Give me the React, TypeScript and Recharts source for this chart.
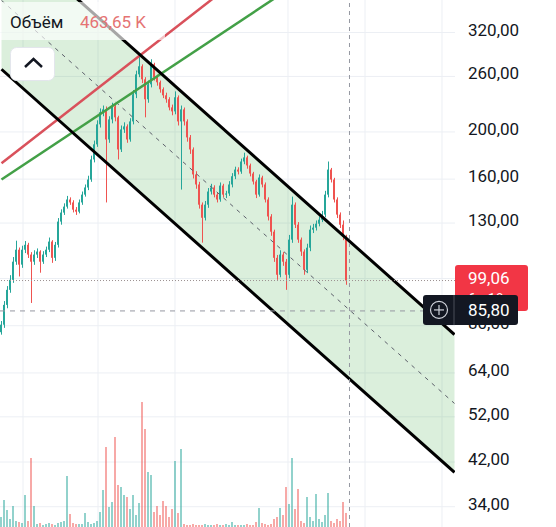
import React from 'react';
import { ComposedChart, Bar, Line, Area, XAxis, YAxis, CartesianGrid, ReferenceLine } from 'recharts';

const openPrices = [
  77.6, 80.4, 88.3, 94.8, 99.4, 108.3, 114.6, 106.8, 114.6, 117.3,
  112.0, 108.3, 112.0, 113.6, 108.3, 112.0, 114.6, 119.1, 110.3, 117.3,
  130.9, 136.6, 140.5, 145.3, 143.3, 138.5, 137.2, 143.3, 148.7, 153.8,
  159.7, 175.6, 188.6, 207.3, 219.5, 222.5, 193.0, 212.2, 225.7, 214.3,
  184.1, 202.4, 205.3, 193.0, 210.2, 239.0, 262.6, 272.8, 256.5, 233.4,
  250.5, 275.4, 259.0, 252.9, 244.7, 237.8, 233.4, 224.6, 220.4, 235.6,
  210.2, 222.5, 210.2, 194.9, 184.1, 163.6, 156.0, 141.8, 133.3, 141.8,
  150.9, 153.8, 148.7, 145.3, 155.2, 148.7, 149.5, 156.0, 162.2, 167.4,
  165.8, 173.9, 177.3, 170.7, 164.3, 158.2, 148.7, 161.2, 156.0, 145.3,
  134.1, 124.8, 110.3, 101.8, 112.0, 108.3, 101.8, 120.2, 141.8, 129.0,
  120.2, 113.6, 104.2, 115.7, 126.0, 127.2, 129.6, 132.1, 135.3, 148.7,
  167.4, 159.7, 145.3, 135.3, 129.0, 121.8,
];
const highPrices = [
  81.8, 89.9, 96.5, 101.6, 110.7, 119.6, 115.8, 116.8, 119.4, 118.4,
  113.3, 114.3, 115.3, 114.3, 113.8, 116.3, 121.4, 119.9, 118.9, 133.1,
  138.7, 142.7, 147.8, 146.8, 144.8, 140.2, 145.3, 150.9, 156.0, 162.6,
  178.8, 192.0, 211.3, 223.5, 226.6, 225.6, 215.4, 229.6, 227.6, 215.9,
  206.2, 209.3, 207.3, 213.4, 243.8, 267.2, 284.9, 275.3, 259.1, 255.0,
  282.0, 277.4, 262.1, 255.0, 246.9, 240.8, 235.7, 227.6, 242.3, 237.7,
  226.6, 224.5, 212.3, 197.1, 185.9, 166.1, 158.0, 143.3, 144.3, 153.4,
  156.5, 155.4, 150.4, 157.5, 156.5, 151.4, 158.5, 164.6, 169.7, 169.2,
  176.3, 181.3, 178.8, 172.2, 165.6, 159.5, 163.6, 162.6, 157.5, 146.8,
  135.6, 126.0, 111.8, 114.3, 113.3, 109.7, 122.9, 147.3, 143.3, 130.6,
  121.4, 114.8, 117.9, 128.5, 129.5, 131.6, 134.1, 137.7, 151.4, 173.9,
  168.7, 161.0, 146.8, 136.7, 131.6, 123.0,
];
const lowPrices = [
  76.7, 79.2, 86.9, 93.5, 98.0, 106.7, 101.0, 105.2, 112.8, 110.2,
  89.1, 106.7, 110.2, 102.8, 107.2, 110.7, 113.3, 107.7, 108.7, 115.8,
  129.0, 135.1, 139.2, 141.7, 136.7, 135.1, 136.1, 141.7, 147.3, 151.9,
  158.0, 173.2, 186.4, 204.2, 215.4, 143.3, 190.0, 208.3, 210.3, 175.6,
  181.9, 199.1, 190.0, 191.0, 207.3, 234.7, 259.1, 252.0, 214.3, 229.6,
  246.9, 255.0, 248.9, 240.8, 234.7, 229.6, 221.5, 216.4, 217.4, 206.2,
  152.3, 206.2, 191.0, 180.3, 160.5, 152.9, 139.2, 118.5, 131.6, 139.7,
  148.8, 146.8, 143.3, 143.8, 146.8, 146.3, 147.8, 153.9, 160.0, 163.6,
  164.1, 171.7, 168.1, 162.1, 156.0, 146.3, 147.3, 153.9, 143.3, 131.6,
  122.4, 108.2, 99.4, 100.6, 106.2, 94.8, 100.1, 118.4, 127.0, 118.4,
  111.3, 101.8, 102.6, 113.8, 124.0, 125.5, 128.0, 130.6, 133.6, 146.8,
  157.5, 143.3, 133.1, 127.0, 119.9, 97.1,
];
const closePrices = [
  80.4, 88.3, 94.8, 99.4, 108.3, 114.6, 106.8, 114.6, 117.3, 112.0,
  108.3, 112.0, 113.6, 108.3, 112.0, 114.6, 119.1, 110.3, 117.3, 130.9,
  136.6, 140.5, 145.3, 143.3, 138.5, 137.2, 143.3, 148.7, 153.8, 159.7,
  175.6, 188.6, 207.3, 219.5, 222.5, 193.0, 212.2, 225.7, 214.3, 184.1,
  202.4, 205.3, 193.0, 210.2, 239.0, 262.6, 272.8, 256.5, 233.4, 250.5,
  275.4, 259.0, 252.9, 244.7, 237.8, 233.4, 224.6, 220.4, 235.6, 210.2,
  222.5, 210.2, 194.9, 184.1, 163.6, 156.0, 141.8, 133.3, 141.8, 150.9,
  153.8, 148.7, 145.3, 155.2, 148.7, 149.5, 156.0, 162.2, 167.4, 165.8,
  173.9, 177.3, 170.7, 164.3, 158.2, 148.7, 161.2, 156.0, 145.3, 134.1,
  124.8, 110.3, 101.8, 112.0, 108.3, 101.8, 120.2, 141.8, 129.0, 120.2,
  113.6, 104.2, 115.7, 126.0, 127.2, 129.6, 132.1, 135.3, 148.7, 167.4,
  159.7, 145.3, 135.3, 129.0, 121.8, 99.06,
];
const volumesK = [
  330, 891, 561, 264, 693, 198, 165, 132, 1056, 198,
  2277, 693, 99, 132, 66, 99, 132, 99, 66, 132,
  165, 198, 1683, 429, 132, 99, 99, 99, 462, 165,
  99, 132, 198, 495, 1221, 2640, 660, 825, 2970, 1386,
  1320, 1056, 990, 594, 1056, 396, 792, 4125, 3234, 1815,
  1716, 495, 693, 396, 858, 693, 330, 594, 2178, 462,
  2574, 99, 66, 66, 99, 66, 66, 66, 99, 66,
  66, 66, 99, 66, 66, 99, 66, 165, 66, 66,
  66, 66, 99, 66, 66, 165, 627, 132, 99, 66,
  99, 264, 330, 627, 396, 1320, 759, 2277, 594, 1254,
  198, 132, 990, 330, 198, 1089, 264, 165, 396, 1122,
  198, 132, 264, 198, 825, 463.65,
];

const slotCount = 152;
const xDomain = [-0.5, 151.1667];
const priceTicks = [34, 42, 52, 64, 80, 100, 130, 160, 200, 260, 320];
const coveredTicks = [80, 100];
const priceDomain = [30.89, 373.2];
const volumeAxisMax = 17391;
const gridSlots = [7.17, 32.17, 57.83, 95.5, 121.17, 146.83];

const channelSlots = [0, 151];
const channelUpper = [515.9, 76.7];
const channelMid = [372.5, 55.4];
const channelLower = [269.0, 40.0];
const redTrendSlots = [0, 90];
const redTrend = [172.5, 466.2];
const greenTrendSlots = [0, 120];
const greenTrend = [159.7, 494.1];

const lastPrice = 99.06;
const countdownText = '6д 18ч';
const crosshairPrice = 85.8;
const crosshairSlot = 116;

const UP = '#26a69a';
const DOWN = '#ef5350';
const FONT = 'Roboto, "Noto Sans", sans-serif';

const fmt = (v: number) => v.toFixed(2).replace('.', ',');

const rows = Array.from({ length: slotCount }, (_, i) => {
  const row: any = { i };
  if (i < closePrices.length) {
    const o = openPrices[i];
    const c = closePrices[i];
    row.o = o;
    row.c = c;
    row.up = c >= o;
    row.wick = [lowPrices[i], highPrices[i]];
    row.body = [Math.min(o, c), Math.max(o, c)];
    row.vol = volumesK[i];
  }
  const k = channelSlots.indexOf(i);
  if (k >= 0) {
    row.upper = channelUpper[k];
    row.mid = channelMid[k];
    row.lower = channelLower[k];
    row.band = [channelLower[k], channelUpper[k]];
  }
  const r = redTrendSlots.indexOf(i);
  if (r >= 0) row.red = redTrend[r];
  const g = greenTrendSlots.indexOf(i);
  if (g >= 0) row.green = greenTrend[g];
  return row;
});

const CandleShape = (p: any) => {
  const { x, y, width, height, payload } = p;
  if (!payload || payload.up === undefined || !isFinite(y)) return <g />;
  return <rect x={x} y={y} width={width} height={Math.max(1, height)} fill={payload.up ? UP : DOWN} />;
};
const VolShape = (p: any) => {
  const { x, y, width, height, payload } = p;
  if (!payload || payload.up === undefined || !isFinite(y)) return <g />;
  return (
    <rect x={x} y={y} width={width} height={Math.max(0, height)}
      fill={payload.up ? 'rgba(38,166,154,0.5)' : 'rgba(239,83,80,0.5)'} />
  );
};

const PriceTick = (p: any) => {
  const { x, y, payload } = p;
  if (coveredTicks.includes(payload.value)) return <g />;
  return (
    <text x={x} y={y - 3} dy="0.355em" textAnchor="start" fill="#131722" fontSize={17} fontFamily={FONT}>
      {fmt(payload.value)}
    </text>
  );
};

// axis label drawn in the reference-line layer so that the price tags cover it
const CoveredTickLabel = (p: any) => {
  const vb = p.viewBox || {};
  return (
    <text x={vb.x + vb.width + 13} y={vb.y - 3} dy="0.355em" textAnchor="start" fill="#131722" fontSize={17} fontFamily={FONT}>
      {fmt(p.tickValue)}
    </text>
  );
};

const LastPriceTag = (p: any) => {
  const vb = p.viewBox || {};
  const x0 = vb.x + vb.width;
  const y = vb.y;
  return (
    <g>
      <rect x={x0} y={y - 15.5} width={73} height={46} rx={3} fill="#f23645" />
      <text x={x0 + 13} y={y - 3} dy="0.355em" fill="#fff" fontSize={17} fontFamily={FONT}>{fmt(lastPrice)}</text>
      <text x={x0 + 13} y={y + 18} dy="0.355em" fill="#fff" fontSize={14} fontFamily={FONT}>{countdownText}</text>
    </g>
  );
};

const CrosshairTag = (p: any) => {
  const vb = p.viewBox || {};
  const x0 = vb.x + vb.width;
  const y = vb.y;
  return (
    <g>
      <rect x={x0 - 32} y={y - 16} width={95} height={30} rx={3} fill="#131722" />
      <line x1={x0 - 1} y1={y - 16} x2={x0 - 1} y2={y + 14} stroke="#4a4e59" strokeWidth={1} />
      <circle cx={x0 - 16} cy={y - 1} r={8.5} fill="none" stroke="#d1d4dc" strokeWidth={1.2} />
      <line x1={x0 - 21} y1={y - 1} x2={x0 - 11} y2={y - 1} stroke="#d1d4dc" strokeWidth={1.2} />
      <line x1={x0 - 16} y1={y - 6} x2={x0 - 16} y2={y + 4} stroke="#d1d4dc" strokeWidth={1.2} />
      <text x={x0 + 13} y={y - 1} dy="0.355em" fill="#fff" fontSize={17} fontFamily={FONT}>{fmt(crosshairPrice)}</text>
    </g>
  );
};

export default function App() {
  const lastVol = volumesK[volumesK.length - 1];
  return (
    <div style={{ position: 'fixed', left: 0, top: 0, width: 556, height: 527, overflow: 'hidden', background: '#fff', fontFamily: FONT }}>
      <ComposedChart width={556} height={527} data={rows} margin={{ top: 0, right: 0, bottom: 0, left: 0 }}>
        <XAxis xAxisId="main" type="number" dataKey="i" domain={xDomain} hide allowDataOverflow />
        <XAxis xAxisId="wick" type="number" dataKey="i" domain={xDomain} hide allowDataOverflow />
        <XAxis xAxisId="vol" type="number" dataKey="i" domain={xDomain} hide allowDataOverflow />
        <YAxis yAxisId="price" orientation="right" scale="log" domain={priceDomain} allowDataOverflow
          ticks={priceTicks} interval={0} width={101} axisLine={false} tickLine={false}
          tickSize={0} tickMargin={13} tick={<PriceTick />} />
        <YAxis yAxisId="vol" hide domain={[0, volumeAxisMax]} allowDataOverflow />
        <CartesianGrid xAxisId="main" yAxisId="price" horizontalValues={priceTicks} verticalValues={gridSlots} stroke="#eceff4" />
        <Area xAxisId="main" yAxisId="price" dataKey="band" stroke="none" fill="#4caf50" fillOpacity={0.2}
          connectNulls isAnimationActive={false} dot={false} activeDot={false} />
        <Bar xAxisId="vol" yAxisId="vol" dataKey="vol" barSize={2} shape={VolShape} isAnimationActive={false} />
        <Bar xAxisId="wick" yAxisId="price" dataKey="wick" barSize={1} shape={CandleShape} isAnimationActive={false} />
        <Bar xAxisId="main" yAxisId="price" dataKey="body" barSize={2} shape={CandleShape} isAnimationActive={false} />
        <Line xAxisId="main" yAxisId="price" dataKey="mid" stroke="#5d606b" strokeWidth={1} strokeDasharray="4 5"
          dot={false} activeDot={false} connectNulls isAnimationActive={false} />
        <Line xAxisId="main" yAxisId="price" dataKey="red" stroke="#d9515b" strokeWidth={2.5}
          dot={false} activeDot={false} connectNulls isAnimationActive={false} />
        <Line xAxisId="main" yAxisId="price" dataKey="green" stroke="#43a047" strokeWidth={2.5}
          dot={false} activeDot={false} connectNulls isAnimationActive={false} />
        <Line xAxisId="main" yAxisId="price" dataKey="upper" stroke="#000" strokeWidth={3}
          dot={false} activeDot={false} connectNulls isAnimationActive={false} />
        <Line xAxisId="main" yAxisId="price" dataKey="lower" stroke="#000" strokeWidth={3}
          dot={false} activeDot={false} connectNulls isAnimationActive={false} />
        <ReferenceLine xAxisId="main" yAxisId="price" x={crosshairSlot} stroke="#9598a1" strokeDasharray="4 4" />
        {coveredTicks.map((t) => (
          <ReferenceLine key={t} xAxisId="main" yAxisId="price" y={t} stroke="none"
            label={<CoveredTickLabel tickValue={t} />} />
        ))}
        <ReferenceLine xAxisId="main" yAxisId="price" y={lastPrice} stroke="#9a8f8f" strokeDasharray="1 2"
          label={<LastPriceTag />} />
        <ReferenceLine xAxisId="main" yAxisId="price" y={crosshairPrice} stroke="#9598a1" strokeDasharray="5 5"
          label={<CrosshairTag />} />
      </ComposedChart>
      <svg style={{ position: 'absolute', left: 0, top: 0 }} width={556} height={100}>
        <rect x={0} y={2} width={165} height={38} fill="#fff" fillOpacity={0.65} />
        <text x={10} y={28} fontSize={17} fill="#131722" fontFamily={FONT}>Объём</text>
        <text x={80} y={28} fontSize={17} fill="#e57373" fontFamily={FONT}>{fmt(lastVol)} K</text>
        <rect x={10.5} y={47.5} width={44} height={33} rx={6} fill="#fff" stroke="#e3e6ec" />
        <polyline points="25,67 33.5,59 42,67" fill="none" stroke="#131722" strokeWidth={2.5} />
      </svg>
    </div>
  );
}
